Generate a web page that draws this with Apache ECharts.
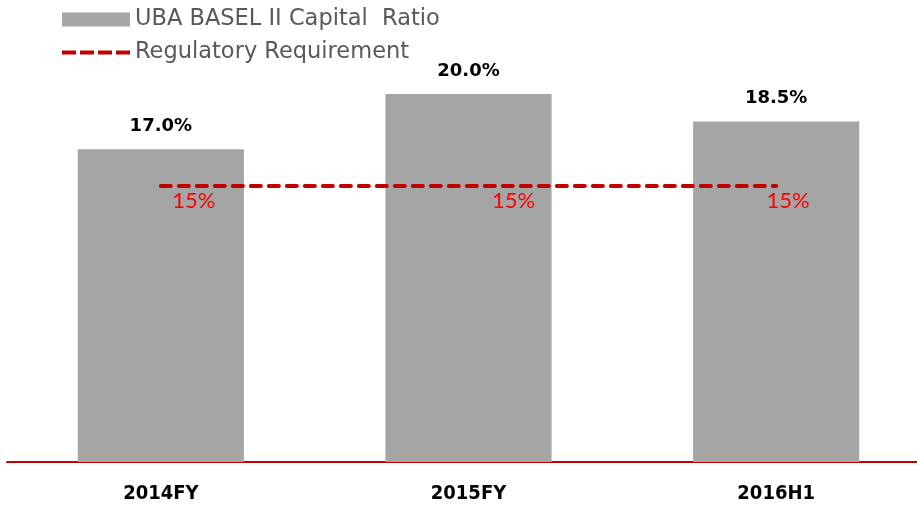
<!DOCTYPE html>
<html>
<head>
<meta charset="utf-8">
<script src="https://cdn.jsdelivr.net/npm/echarts@6/dist/echarts.min.js"></script>
<style>
  html, body { margin: 0; padding: 0; background: #fff; overflow: hidden; }
  #chart { width: 930px; height: 506px; }
</style>
</head>
<body>
<div id="chart"></div>
<script>
const categories = ['2014FY', '2015FY', '2016H1'];
const capitalRatio = [17.0, 20.0, 18.5];
const requirement = [15, 15, 15];
const seriesNames = ['UBA BASEL II Capital  Ratio', 'Regulatory Requirement'];

// red labels sit a little to the right of each point in the original
const reqLabelShift = [33, 45, 12];

// dashed legend icon for the requirement line
const dashIcon = 'path://M0 0H14V4H0Z M18 0H32V4H18Z M36 0H50V4H36Z M54 0H68V4H54Z';

const chart = echarts.init(document.getElementById('chart'));

const option = {
  backgroundColor: '#fff',
  animation: false,
  legend: {
    orient: 'vertical',
    left: 57,
    top: 3,
    itemGap: 10,
    itemWidth: 68,
    itemHeight: 14,
    textStyle: {
      color: '#595959',
      fontSize: 22.5,
      fontFamily: 'DejaVu Sans',
      lineHeight: 23
    },
    data: [
      { name: seriesNames[0], icon: 'rect' },
      { name: seriesNames[1], icon: dashIcon, itemHeight: 5 }
    ]
  },
  grid: {
    left: 7,
    right: 0,
    top: 94,
    bottom: 44
  },
  xAxis: {
    type: 'category',
    data: categories,
    axisLine: {
      lineStyle: { color: '#c00000', width: 2 }
    },
    axisTick: { show: false },
    axisLabel: {
      color: '#000',
      fontWeight: 'bold',
      fontSize: 20,
      fontFamily: 'DejaVu Sans Condensed',
      margin: 22
    }
  },
  yAxis: {
    type: 'value',
    min: 0,
    max: 20,
    show: false,
    splitLine: { show: false }
  },
  series: [
    {
      name: seriesNames[0],
      type: 'bar',
      data: capitalRatio,
      barWidth: '54%',
      itemStyle: { color: '#a5a5a5' },
      label: {
        show: true,
        position: 'top',
        distance: 14,
        color: '#000',
        fontWeight: 'bold',
        fontSize: 18,
        fontFamily: 'DejaVu Sans',
        formatter: p => p.value.toFixed(1) + '%'
      }
    },
    {
      name: seriesNames[1],
      type: 'line',
      data: requirement.map((v, i) => ({
        value: v,
        label: { offset: [reqLabelShift[i], 0] }
      })),
      symbol: 'circle',
      symbolSize: 0.01,
      showSymbol: true,
      lineStyle: {
        color: '#c00000',
        width: 4,
        type: [10, 8],
        cap: 'round'
      },
      itemStyle: { color: '#c00000' },
      label: {
        show: true,
        position: 'bottom',
        distance: 4,
        color: '#ff0000',
        fontSize: 22,
        fontFamily: 'Lato',
        fontWeight: 'normal',
        formatter: p => p.value + '%'
      }
    }
  ]
};

chart.setOption(option);
</script>
</body>
</html>
